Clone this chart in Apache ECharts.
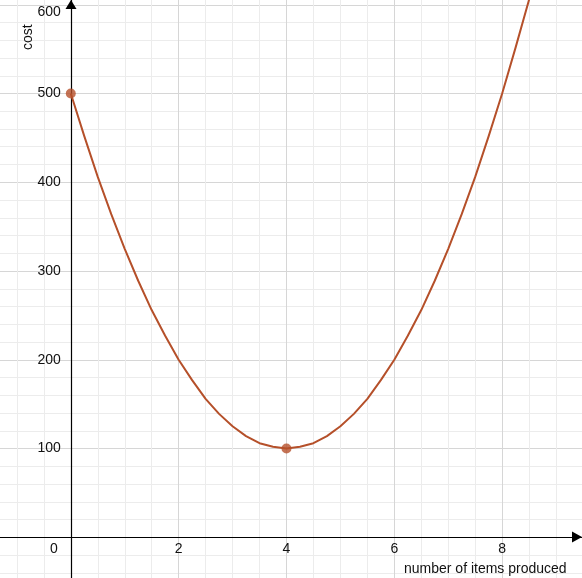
<!DOCTYPE html>
<html><head><meta charset="utf-8">
<script src="https://cdn.jsdelivr.net/npm/echarts@6/dist/echarts.min.js"></script>
<style>
html,body{margin:0;padding:0;background:#fff}
#wrap{position:relative;width:582px;height:578px;overflow:hidden}
#c{position:absolute;left:-37px;top:-84px;width:647px;height:710px}
</style>
</head><body><div id="wrap"><div id="c"></div></div>
<script>
var xLabel = 'number of items produced';
var yLabel = 'cost';
var xTicks = [0, 2, 4, 6, 8];
var yTicks = [100, 200, 300, 400, 500, 600];
var curveX = [0, 0.25, 0.5, 0.75, 1, 1.25, 1.5, 1.75, 2, 2.25, 2.5, 2.75, 3, 3.25, 3.5, 3.75, 4,
              4.25, 4.5, 4.75, 5, 5.25, 5.5, 5.75, 6, 6.25, 6.5, 6.75, 7, 7.25, 7.5, 7.75, 8, 8.25, 8.5];
var curveY = [500, 452, 406, 364, 325, 289, 256, 227, 200, 177, 156, 139, 125, 114, 106, 102, 100,
              102, 106, 114, 125, 139, 156, 177, 200, 227, 256, 289, 325, 364, 406, 452, 500, 552, 606];
var pointX = [0, 4];
var pointY = [500, 100];

var curveData = curveX.map(function (x, i) { return [x, curveY[i]]; });
var pointData = pointX.map(function (x, i) { return [x, pointY[i]]; });
var font = 'Liberation Sans, Arial, sans-serif';
var col = '#b5502a';
var OX = 37, OY = 84; // offset of the visible window inside the chart div

var chart = echarts.init(document.getElementById('c'));
chart.setOption({
  animation: false,
  grid: [
    { left: 0, right: 0, top: 0, bottom: 0, containLabel: false, outerBoundsMode: 'none' },
    { left: 107.8, right: 0, top: 0, bottom: 88.75, containLabel: false, outerBoundsMode: 'none' }
  ],
  xAxis: [
    {
      gridIndex: 0, type: 'value', min: -2, max: 10, interval: 2,
      axisLine: { onZero: true, lineStyle: { color: '#000', width: 1.2 } },
      axisTick: { show: false }, axisLabel: { show: false },
      splitLine: { show: true, lineStyle: { color: '#d6d6d6', width: 1 } },
      minorTick: { show: false, splitNumber: 4 },
      minorSplitLine: { show: true, lineStyle: { color: '#ececec', width: 1 } }
    },
    {
      gridIndex: 1, type: 'value', min: 0, max: 10, interval: 2,
      axisLine: { show: false }, axisTick: { show: false }, splitLine: { show: false },
      axisLabel: {
        showMinLabel: true, showMaxLabel: false,
        color: '#111', fontFamily: font, fontSize: 14, margin: 5,
        formatter: function (v) {
          if (xTicks.indexOf(v) < 0) return '';
          if (v === 0) return '{z|0}';
          return String(v);
        },
        rich: { z: { padding: [0, 34, 0, 0], fontFamily: font, fontSize: 14, color: '#111' } }
      }
    }
  ],
  yAxis: [
    {
      gridIndex: 0, type: 'value', min: -100, max: 700, interval: 100,
      axisLine: { onZero: true, lineStyle: { color: '#000', width: 1.2 } },
      axisTick: { show: false }, axisLabel: { show: false },
      splitLine: { show: true, lineStyle: { color: '#d6d6d6', width: 1 } },
      minorTick: { show: false, splitNumber: 5 },
      minorSplitLine: { show: true, lineStyle: { color: '#ececec', width: 1 } }
    },
    {
      gridIndex: 1, type: 'value', min: 0, max: 700, interval: 100,
      axisLine: { show: false }, axisTick: { show: false }, splitLine: { show: false },
      axisLabel: {
        color: '#111', fontFamily: font, fontSize: 14, margin: 10,
        formatter: function (v) {
          if (yTicks.indexOf(v) < 0) return '';
          if (v === 600) return '{t|600}';
          return String(v);
        },
        rich: { t: { padding: [15, 0, 0, 0], fontFamily: font, fontSize: 14, color: '#111' } }
      }
    }
  ],
  series: [
    { type: 'line', xAxisIndex: 1, yAxisIndex: 1, data: curveData, smooth: false, symbol: 'none',
      lineStyle: { color: col, width: 2, join: 'round' }, z: 3 },
    { type: 'scatter', xAxisIndex: 1, yAxisIndex: 1, data: pointData, symbolSize: 10,
      itemStyle: { color: col }, z: 4 }
  ],
  graphic: [
    { type: 'polygon', shape: { points: [[582 + OX, 537 + OY], [572 + OX, 531.5 + OY], [572 + OX, 542.5 + OY]] }, style: { fill: '#000' }, z: 10 },
    { type: 'polygon', shape: { points: [[71 + OX, 0 + OY], [65.5 + OX, 9 + OY], [76.5 + OX, 9 + OY]] }, style: { fill: '#000' }, z: 10 },
    { type: 'text', x: 404 + OX, y: 562 + OY, style: { text: xLabel, font: '14px ' + font, fill: '#111' }, z: 10 },
    { type: 'text', x: 21 + OX, y: 50 + OY, rotation: Math.PI / 2, style: { text: yLabel, font: '14px ' + font, fill: '#111' }, z: 10 }
  ]
});
</script></body></html>
